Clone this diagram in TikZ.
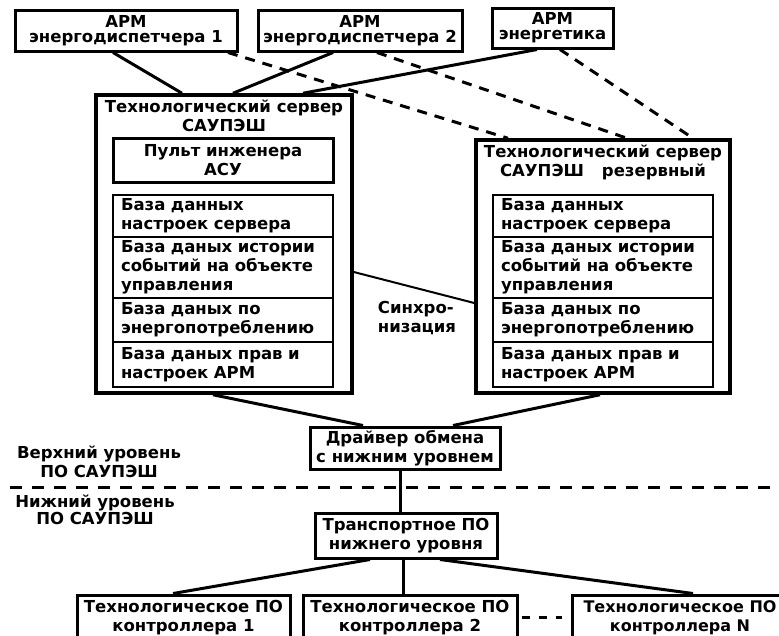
\documentclass[tikz,border=0pt]{standalone}
\usepackage{fontspec}
\setmainfont{DejaVu Sans}
\tikzset{
  blk/.style={draw, line width=3pt, align=center, inner sep=2pt,
    font=\bfseries\fontsize{16.5}{19}\selectfont},
  dbbox/.style={draw, line width=2.5pt, align=left, text width=204pt,
    inner xsep=8pt, inner ysep=2pt, font=\bfseries\fontsize{16.5}{19}\selectfont},
  txt/.style={align=center, inner sep=0pt, font=\bfseries\fontsize{16.5}{19}\selectfont},
  link/.style={line width=3pt},
  reserve/.style={line width=3pt, dash pattern=on 10pt off 8pt},
}
\begin{document}
\begin{tikzpicture}[x=1pt, y=-1pt]
    \clip (0,0) rectangle (779,635);

    % workstations
    \node [blk, minimum width=222pt, minimum height=41pt,
      font=\bfseries\fontsize{16.5}{15}\selectfont] (arm1) at (126,30.5)
      {АРМ\\энергодиспетчера 1};
    \node [blk, minimum width=204pt, minimum height=41pt,
      font=\bfseries\fontsize{16.5}{15}\selectfont] (arm2) at (360,30.5)
      {АРМ\\энергодиспетчера 2};
    \node [blk, minimum width=121pt, minimum height=40pt,
      font=\bfseries\fontsize{16.5}{15}\selectfont] (arme) at (552.5,28)
      {АРМ\\энергетика};

    % servers
    \node [blk, line width=3.5pt, minimum width=256pt, minimum height=298pt]
      (srvA) at (224,244) {};
    \node [txt, anchor=north] (ttlA) at (224,100) {Технологический сервер\\САУПЭШ};
    \node [blk, minimum width=220pt, minimum height=44pt] (pult) at (223,160)
      {Пульт инженера\\АСУ};
    \node [blk, line width=3.5pt, minimum width=254pt, minimum height=253pt]
      (srvB) at (603,266.5) {};
    \node [txt, anchor=north] (ttlB) at (603,145)
      {Технологический сервер\\САУПЭШ\hspace{18pt}резервный};

    % databases
    \foreach \s/\x in {A/223, B/603} {
      \node [dbbox, minimum height=42pt] (db\s1) at (\x,216)
        {База данных\\настроек сервера};
      \node [dbbox, minimum height=61pt] (db\s2) at (\x,267.5)
        {База даных истории\\событий на объекте\\управления};
      \node [dbbox, minimum height=44pt] (db\s3) at (\x,320)
        {База даных по\\энергопотреблению};
      \node [dbbox, minimum height=45pt] (db\s4) at (\x,364.5)
        {База даных прав и\\настроек АРМ};
    }
    \node [txt, align=left] (sync) at (417,318) {Синхро-\\низация};

    % lower level
    \node [blk, minimum width=190pt, minimum height=42pt] (drv) at (405,448)
      {Драйвер обмена\\с нижним уровнем};
    \node [blk, minimum width=182pt, minimum height=45pt] (trans) at (406,535.5)
      {Транспортное ПО\\нижнего уровня};
    \node [blk, minimum width=213pt, minimum height=45pt] (ctrl1) at (183.5,617.5)
      {Технологическое ПО\\контроллера 1};
    \node [blk, minimum width=214pt, minimum height=45pt] (ctrl2) at (410,617.5)
      {Технологическое ПО\\контроллера 2};
    \node [blk, minimum width=216pt, minimum height=45pt,
      font=\bfseries\fontsize{16}{19}\selectfont] (ctrlN) at (680,617.5)
      {Технологическое ПО\\контроллера N};

    \node [txt] (upper) at (99,462) {Верхний уровень\\ПО САУПЭШ};
    \node [txt, font=\bfseries\fontsize{16.5}{17}\selectfont] (lower) at (95,510)
      {Нижний уровень\\ПО САУПЭШ};
    \coordinate (sepL) at (10,487);
    \coordinate (sepR) at (779,487);
    \draw [line width=3pt, dash pattern=on 12pt off 10pt] (sepL) -- (sepR);

    % links
    \draw [link] ([xshift=-13pt]arm1.south) -- ([xshift=-42pt]srvA.north);
    \draw [link] ([xshift=-27pt]arm2.south) -- ([xshift=9pt]srvA.north);
    \draw [link] ([xshift=-15.5pt]arme.south) -- ([xshift=79pt]srvA.north);
    \draw [reserve] ([xshift=102pt]arm1.south) -- ([xshift=-95pt]srvB.north);
    \draw [reserve] ([xshift=17pt]arm2.south) -- ([xshift=24pt]srvB.north);
    \draw [reserve] ([xshift=7.5pt]arme.south) -- ([xshift=90pt]srvB.north);
    \draw [line width=2pt] ([yshift=-28pt]srvA.east) -- ([yshift=-36.5pt]srvB.west);
    \draw [link] ([xshift=-11pt]srvA.south) -- ([xshift=-42pt]drv.north);
    \draw [link] ([xshift=-3pt]srvB.south) -- ([xshift=48pt]drv.north);
    \draw [link] ([xshift=-5pt]drv.south) -- ([xshift=-6pt]trans.north);
    \draw [link] ([xshift=-36pt]trans.south) -- ([xshift=-10.5pt]ctrl1.north);
    \draw [link] ([xshift=-3pt]trans.south) -- ([xshift=-7pt]ctrl2.north);
    \draw [link] ([xshift=34pt]trans.south) -- ([xshift=13pt]ctrlN.north);
    \draw [line width=3pt, dash pattern=on 8pt off 9pt, shorten <=3pt, shorten >=9pt]
      (ctrl2.east) -- (ctrlN.west);
\end{tikzpicture}
\end{document}
